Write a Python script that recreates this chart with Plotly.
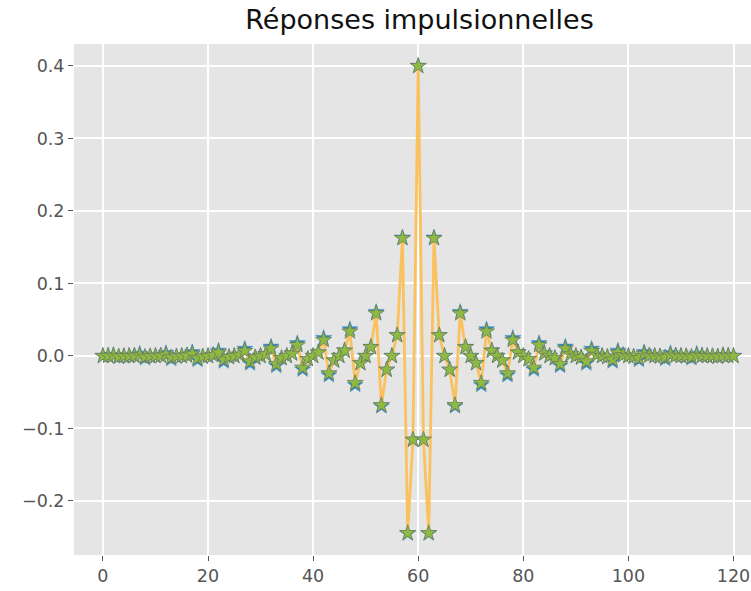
import plotly.graph_objects as go

# sample index
n = list(range(121))

# series 1 (blue stars)
h_blue = [
    0, 0.0005, 0.0012, -0.0012, -0.0004,
    0, 0.0006, 0.0030, -0.0032, -0.0006,
    0, 0.0008, 0.0040, -0.0042, -0.0009,
    0, 0.0010, 0.0052, -0.0055, -0.0012,
    0, 0.0014, 0.0072, -0.0076, -0.0017,
    0, 0.0019, 0.0098, -0.0104, -0.0023,
    0, 0.0027, 0.0128, -0.0136, -0.0032,
    0, 0.0037, 0.0176, -0.0188, -0.0045,
    0, 0.0053, 0.0248, -0.0266, -0.0066,
    0, 0.0078, 0.0368, -0.0400, -0.0102,
    0, 0.0126, 0.0606, -0.0695, -0.0192,
    0, 0.0289, 0.1633, -0.2449, -0.1155,
    0.4,
    -0.1155, -0.2449, 0.1633, 0.0289, 0,
    -0.0192, -0.0695, 0.0606, 0.0126, 0,
    -0.0102, -0.0400, 0.0368, 0.0078, 0,
    -0.0066, -0.0266, 0.0248, 0.0053, 0,
    -0.0045, -0.0188, 0.0176, 0.0037, 0,
    -0.0032, -0.0136, 0.0128, 0.0027, 0,
    -0.0023, -0.0104, 0.0098, 0.0019, 0,
    -0.0017, -0.0076, 0.0072, 0.0014, 0,
    -0.0012, -0.0055, 0.0052, 0.0010, 0,
    -0.0009, -0.0042, 0.0040, 0.0008, 0,
    -0.0006, -0.0032, 0.0030, 0.0006, 0,
    -0.0004, -0.0012, 0.0012, 0.0005, 0,
]

# series 2 (orange line)
h_orange = [
    0, 0.0002, 0.0007, -0.0007, -0.0002,
    0, 0.0002, 0.0010, -0.0011, -0.0003,
    0, 0.0004, 0.0017, -0.0019, -0.0005,
    0, 0.0006, 0.0029, -0.0031, -0.0008,
    0, 0.0010, 0.0046, -0.0050, -0.0013,
    0, 0.0015, 0.0070, -0.0075, -0.0019,
    0, 0.0023, 0.0103, -0.0111, -0.0028,
    0, 0.0033, 0.0150, -0.0162, -0.0041,
    0, 0.0048, 0.0221, -0.0239, -0.0061,
    0, 0.0073, 0.0338, -0.0372, -0.0097,
    0, 0.0122, 0.0588, -0.0678, -0.0188,
    0, 0.0286, 0.1624, -0.2443, -0.1155,
    0.4,
    -0.1155, -0.2443, 0.1624, 0.0286, 0,
    -0.0188, -0.0678, 0.0588, 0.0122, 0,
    -0.0097, -0.0372, 0.0338, 0.0073, 0,
    -0.0061, -0.0239, 0.0221, 0.0048, 0,
    -0.0041, -0.0162, 0.0150, 0.0033, 0,
    -0.0028, -0.0111, 0.0103, 0.0023, 0,
    -0.0019, -0.0075, 0.0070, 0.0015, 0,
    -0.0013, -0.0050, 0.0046, 0.0010, 0,
    -0.0008, -0.0031, 0.0029, 0.0006, 0,
    -0.0005, -0.0019, 0.0017, 0.0004, 0,
    -0.0003, -0.0011, 0.0010, 0.0002, 0,
    -0.0002, -0.0007, 0.0007, 0.0002, 0,
]

# series 3 (green stars)
h_green = [
    0, 0.0002, 0.0007, -0.0007, -0.0002,
    0, 0.0002, 0.0010, -0.0011, -0.0003,
    0, 0.0004, 0.0017, -0.0019, -0.0005,
    0, 0.0006, 0.0029, -0.0031, -0.0008,
    0, 0.0010, 0.0046, -0.0050, -0.0013,
    0, 0.0015, 0.0070, -0.0075, -0.0019,
    0, 0.0023, 0.0103, -0.0111, -0.0028,
    0, 0.0033, 0.0150, -0.0162, -0.0041,
    0, 0.0048, 0.0221, -0.0239, -0.0061,
    0, 0.0073, 0.0338, -0.0372, -0.0097,
    0, 0.0122, 0.0588, -0.0678, -0.0188,
    0, 0.0286, 0.1624, -0.2443, -0.1155,
    0.4,
    -0.1155, -0.2443, 0.1624, 0.0286, 0,
    -0.0188, -0.0678, 0.0588, 0.0122, 0,
    -0.0097, -0.0372, 0.0338, 0.0073, 0,
    -0.0061, -0.0239, 0.0221, 0.0048, 0,
    -0.0041, -0.0162, 0.0150, 0.0033, 0,
    -0.0028, -0.0111, 0.0103, 0.0023, 0,
    -0.0019, -0.0075, 0.0070, 0.0015, 0,
    -0.0013, -0.0050, 0.0046, 0.0010, 0,
    -0.0008, -0.0031, 0.0029, 0.0006, 0,
    -0.0005, -0.0019, 0.0017, 0.0004, 0,
    -0.0003, -0.0011, 0.0010, 0.0002, 0,
    -0.0002, -0.0007, 0.0007, 0.0002, 0,
]

title_text = "Réponses impulsionnelles"
x_ticks = [0, 20, 40, 60, 80, 100, 120]
y_ticks = [-0.2, -0.1, 0.0, 0.1, 0.2, 0.3, 0.4]
y_tick_labels = ["\u22120.2", "\u22120.1", "0.0", "0.1", "0.2", "0.3", "0.4"]

fig = go.Figure()
fig.add_trace(go.Scatter(
    x=n, y=h_blue, mode="markers",
    marker=dict(symbol="star", size=12, color="#348ABD",
                line=dict(color="#348ABD", width=0.5)),
    showlegend=False, hoverinfo="skip"))
fig.add_trace(go.Scatter(
    x=n, y=h_orange, mode="lines",
    line=dict(color="#FBC15E", width=2.8),
    showlegend=False, hoverinfo="skip"))
fig.add_trace(go.Scatter(
    x=n, y=h_green, mode="markers",
    marker=dict(symbol="star", size=12, color="#8EBA42",
                line=dict(color="#6b7b60", width=0.8)),
    showlegend=False, hoverinfo="skip"))

axis_font = dict(family="DejaVu Sans", size=17.5, color="#555555")
fig.update_layout(
    width=751, height=591,
    margin=dict(l=74, r=0, t=44, b=36),
    paper_bgcolor="white",
    plot_bgcolor="#E5E5E5",
    title=dict(text=title_text, x=(74 + 765) / 2 / 751, xanchor="center",
               y=1 - 20 / 591, yanchor="middle", yref="container",
               font=dict(family="DejaVu Sans", size=27, color="#111111")),
    xaxis=dict(range=[-5.5, 123.33], tickvals=x_ticks, ticks="outside",
               ticklen=5, tickwidth=1, tickcolor="#555555",
               showgrid=True, gridcolor="white", gridwidth=1.5,
               zeroline=False, showline=False, tickfont=axis_font),
    yaxis=dict(range=[-0.2745, 0.4303], tickvals=y_ticks, ticktext=y_tick_labels,
               ticks="outside", ticklen=5, tickwidth=1, tickcolor="#555555",
               showgrid=True, gridcolor="white", gridwidth=1.5,
               zeroline=False, showline=False, tickfont=axis_font),
)

fig.write_html("out.html")
